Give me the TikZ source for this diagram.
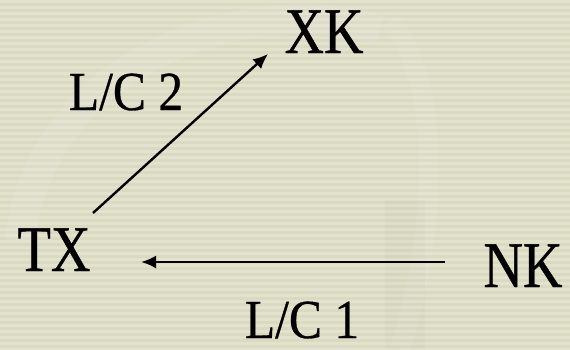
\documentclass[tikz,border=0pt]{standalone}
\usepackage{fontspec}
\setmainfont{Liberation Serif}[FakeStretch=0.84,FakeBold=0.6]
\newfontfamily\labfont{Liberation Serif}[FakeStretch=0.9,FakeBold=0.6]
\usetikzlibrary{arrows.meta}
\definecolor{bgdark}{HTML}{DAD9C2}
\definecolor{bglight}{HTML}{E3E2CD}
\tikzset{
  big/.style={font=\fontsize{65}{70}\selectfont, inner sep=0pt, anchor=base},
  lab/.style={font=\labfont\fontsize{55}{60}\selectfont, inner sep=0pt, anchor=base},
  arr/.style={line width=2.4pt, -{Latex[length=15pt,width=13pt]}}
}
\begin{document}
\begin{tikzpicture}[x=1pt,y=-1pt]
\useasboundingbox (0,0) rectangle (570,349);
\fill[bgdark] (0,0) rectangle (570,349);
\foreach \y in {0,6,...,348} \fill[bglight] (0,\y) rectangle (570,\y+3);
% faint swirls
\draw[white, opacity=0.1, line width=30pt] (20,240) .. controls (40,60) and (250,-10) .. (380,30);
\draw[white, opacity=0.08, line width=20pt] (390,20) .. controls (440,80) and (440,220) .. (400,349);
\draw[black, opacity=0.015, line width=40pt] (405,200) -- (405,349);
% nodes
\node[big] (XK) at (324,53) {XK};
\node[big] (TX) at (54,271) {TX};
\node[big] (NK) at (523,287) {NK};
\node[lab] (LC2) at (126,110) {L/C 2};
\node[lab] (LC1) at (302,338) {L/C 1};
% connector ends
\coordinate (a1s) at (93,213);
\coordinate (a1e) at (268,54);
\coordinate (a2s) at (445,262);
\coordinate (a2e) at (141,262);
\draw[arr] (a1s) -- (a1e);
\draw[arr] (a2s) -- (a2e);
\end{tikzpicture}
\end{document}
